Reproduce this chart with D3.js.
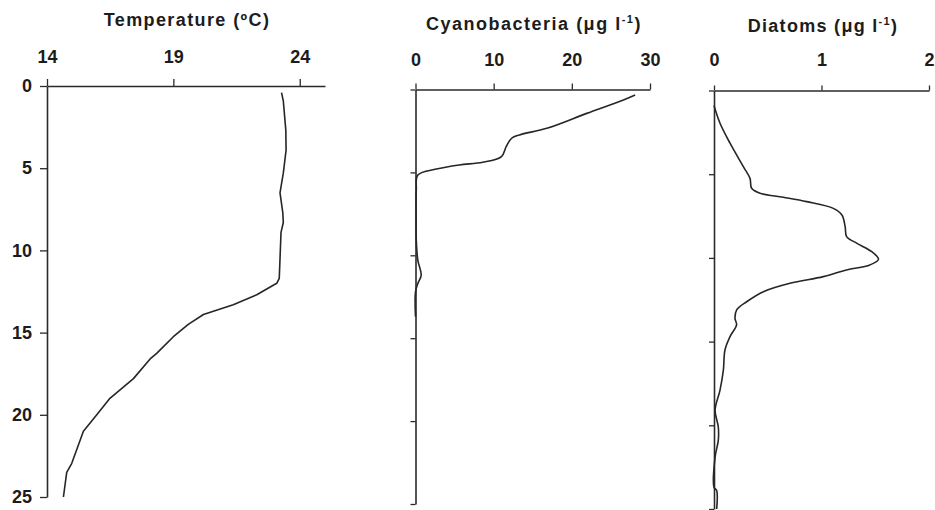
<!DOCTYPE html>
<html>
<head>
<meta charset="utf-8">
<script src="https://cdn.jsdelivr.net/npm/d3@7"></script>
<style>
  html, body { margin: 0; padding: 0; background: #fff; }
  svg { display: block; }
  text { font-family: "Liberation Sans", Arial, sans-serif; font-weight: bold; fill: #1c1c1c; }
</style>
</head>
<body>
<svg id="chart" width="935" height="510"></svg>
<script>
// ---------- data ----------
const depthTicks = [0, 5, 10, 15, 20, 25];

const tempTicks = [14, 19, 24];
const tempDepth = [0.4, 0.9, 2.7, 3.9, 5.3, 6.5, 7.7, 8.3, 8.9, 10.5, 11.7, 12.0, 12.7, 13.3, 13.9, 14.5, 15.25, 16.26, 16.6, 17.8, 19.0, 20.0, 21.0, 22.95, 23.5, 25.0];
const tempValue = [23.28, 23.35, 23.45, 23.46, 23.35, 23.22, 23.33, 23.35, 23.26, 23.22, 23.19, 23.09, 22.30, 21.37, 20.19, 19.59, 19.0, 18.34, 18.08, 17.42, 16.49, 15.97, 15.44, 14.98, 14.78, 14.65];

const cyanoTicks = [0, 10, 20, 30];
const cyanoDepth = [0.33, 0.63, 1.44, 2.34, 2.74, 2.94, 3.45, 4.05, 4.39, 4.55, 4.8, 5.16, 6.06, 7.67, 9.1, 10.3, 11.2, 11.7, 12.2, 13.7];
const cyanoValue = [28.1, 26.6, 21.9, 16.8, 13.3, 12.3, 11.6, 11.0, 8.6, 5.6, 2.65, 0.3, 0.1, 0.08, 0.1, 0.3, 0.73, 0.3, 0.0, 0.0];

const diatomTicks = [0, 1, 2];
const diatomDepth = [0.9, 1.96, 3.15, 4.55, 5.25, 5.84, 6.14, 6.38, 6.64, 7.04, 7.44, 8.14, 8.73, 9.13, 9.63, 10.08, 10.42, 10.72, 11.12, 11.52, 12.02, 12.62, 13.11, 13.61, 14.0, 14.7, 15.5, 16.7, 17.9, 19.1, 20.1, 20.9, 21.9, 23.7, 23.9, 25.0];
const diatomValue = [0.0, 0.056, 0.149, 0.273, 0.335, 0.35, 0.428, 0.645, 0.862, 1.11, 1.19, 1.22, 1.234, 1.33, 1.467, 1.53, 1.45, 1.234, 1.017, 0.707, 0.459, 0.304, 0.211, 0.195, 0.21, 0.149, 0.102, 0.087, 0.056, 0.01, 0.04, 0.04, 0.01, 0.0, 0.025, 0.025];

// ---------- drawing ----------
const svg = d3.select("#chart");
const axisColor = "#2a2a2a";
const lineColor = "#262626";

function panel(cfg) {
  const x = d3.scaleLinear().domain(cfg.xDomain).range(cfg.xRange);
  const y = d3.scaleLinear().domain([0, 25]).range(cfg.yRange);
  const g = svg.append("g");

  // top axis
  const xa = g.append("g")
    .attr("transform", `translate(0,${cfg.yRange[0]})`)
    .call(d3.axisTop(x).tickValues(cfg.xTicks).tickSize(cfg.xTickSize).tickPadding(cfg.xPad).tickSizeOuter(0).tickFormat(d3.format("d")));
  xa.select(".domain").attr("stroke", axisColor).attr("stroke-width", 1.6);
  xa.selectAll(".tick line").attr("stroke", axisColor).attr("stroke-width", 1.3);
  xa.selectAll("text").attr("font-size", 18).attr("fill", "#1c1c1c").attr("font-family", null);
  xa.attr("font-family", null);

  // left axis
  const ya = g.append("g")
    .attr("transform", `translate(${cfg.xRange[0]},0)`)
    .call(d3.axisLeft(y).tickValues(depthTicks).tickSize(cfg.yTickSize).tickPadding(cfg.yPad).tickSizeOuter(0).tickFormat(cfg.yLabels ? d3.format("d") : ""));
  ya.select(".domain").attr("stroke", axisColor).attr("stroke-width", 1.6);
  ya.selectAll(".tick line").attr("stroke", axisColor).attr("stroke-width", 1.3);
  ya.selectAll("text").attr("font-size", 18).attr("fill", "#1c1c1c");
  ya.attr("font-family", null);

  // profile line
  const pts = cfg.depth.map((d, i) => [cfg.values[i], d]);
  g.append("path")
    .datum(pts)
    .attr("fill", "none")
    .attr("stroke", lineColor)
    .attr("stroke-width", 1.6)
    .attr("stroke-linejoin", "round")
    .attr("d", d3.line().x(p => x(p[0])).y(p => y(p[1])).curve(cfg.curve));

  // title
  const t = g.append("text")
    .attr("x", cfg.titleX)
    .attr("y", cfg.titleY)
    .attr("text-anchor", "middle")
    .attr("font-size", 18)
    .attr("letter-spacing", cfg.titleSpacing);
  t.append("tspan").text(cfg.title);
  if (cfg.sup) {
    t.append("tspan").attr("font-size", 11).attr("dy", -7).text(cfg.sup);
    t.append("tspan").attr("dy", 7).text(")");
  }
}

panel({
  xDomain: [14, 25], xRange: [47, 325], yRange: [86, 497],
  xTicks: tempTicks, xTickSize: 7, xPad: 16,
  yTickSize: 7, yPad: 8, yLabels: true,
  depth: tempDepth, values: tempValue, curve: d3.curveLinear,
  title: "Temperature (ºC)", titleX: 187, titleY: 26, titleSpacing: 1.4
});

panel({
  xDomain: [0, 30], xRange: [415.5, 650], yRange: [89.5, 504],
  xTicks: cyanoTicks, xTickSize: 6, xPad: 17.5,
  yTickSize: 5, yPad: 4, yLabels: false,
  depth: cyanoDepth, values: cyanoValue, curve: d3.curveCatmullRom,
  title: "Cyanobacteria (μg l", sup: "-1", titleX: 534, titleY: 30, titleSpacing: 1.5
});

panel({
  xDomain: [0, 2], xRange: [714, 929], yRange: [90.5, 509],
  xTicks: diatomTicks, xTickSize: 5, xPad: 19.5,
  yTickSize: 5, yPad: 4, yLabels: false,
  depth: diatomDepth, values: diatomValue, curve: d3.curveCatmullRom,
  title: "Diatoms (μg l", sup: "-1", titleX: 823, titleY: 32, titleSpacing: 1.3
});
</script>
</body>
</html>
